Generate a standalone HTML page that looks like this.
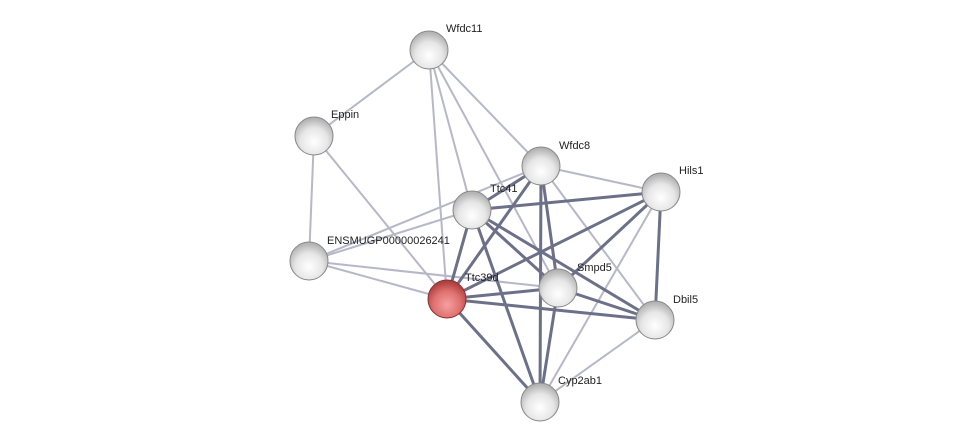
<!DOCTYPE html><html><head><style>body{margin:0;background:#fff}svg{display:block}text{font-family:"Liberation Sans",sans-serif;font-size:11px;fill:#222}</style></head><body>
<svg width="976" height="447" viewBox="0 0 976 447">
<defs>
<radialGradient id="g" cx="50%" cy="65%" r="60%"><stop offset="0" stop-color="#fff"/><stop offset="0.6" stop-color="#e6e6e6"/><stop offset="1" stop-color="#b4b4b4"/></radialGradient>
<radialGradient id="r" cx="50%" cy="65%" r="60%"><stop offset="0" stop-color="#f5a0a0"/><stop offset="0.6" stop-color="#df7070"/><stop offset="1" stop-color="#b04040"/></radialGradient>
<linearGradient id="h" x1="0" y1="0" x2="0" y2="1"><stop offset="0" stop-color="#fff" stop-opacity="0.9"/><stop offset="1" stop-color="#fff" stop-opacity="0"/></linearGradient>
</defs>
<g stroke="#b6b8c8" stroke-width="2">
<line x1="429" y1="50" x2="314" y2="136"/><line x1="429" y1="50" x2="541" y2="166"/><line x1="429" y1="50" x2="472" y2="210"/><line x1="429" y1="50" x2="447" y2="299"/><line x1="429" y1="50" x2="558" y2="288"/>
<line x1="314" y1="136" x2="309" y2="261"/><line x1="314" y1="136" x2="447" y2="299"/>
<line x1="309" y1="261" x2="472" y2="210"/><line x1="309" y1="261" x2="541" y2="166"/><line x1="309" y1="261" x2="447" y2="299"/><line x1="309" y1="261" x2="558" y2="288"/>
<line x1="541" y1="166" x2="661" y2="192"/><line x1="541" y1="166" x2="655" y2="320"/>
<line x1="661" y1="192" x2="540" y2="402"/><line x1="655" y1="320" x2="540" y2="402"/>
</g>
<g stroke="#6c7088" stroke-width="3">
<line x1="447" y1="299" x2="472" y2="210"/><line x1="447" y1="299" x2="541" y2="166"/><line x1="447" y1="299" x2="661" y2="192"/><line x1="447" y1="299" x2="558" y2="288"/><line x1="447" y1="299" x2="655" y2="320"/><line x1="447" y1="299" x2="540" y2="402"/>
<line x1="472" y1="210" x2="661" y2="192"/><line x1="472" y1="210" x2="558" y2="288"/><line x1="472" y1="210" x2="655" y2="320"/><line x1="472" y1="210" x2="540" y2="402"/><line x1="472" y1="210" x2="541" y2="166"/>
<line x1="541" y1="166" x2="558" y2="288"/><line x1="541" y1="166" x2="540" y2="402"/>
<line x1="661" y1="192" x2="558" y2="288"/><line x1="661" y1="192" x2="655" y2="320"/>
<line x1="558" y1="288" x2="655" y2="320"/><line x1="558" y1="288" x2="540" y2="402"/>
</g>
<g stroke="#888" stroke-width="1">
<circle cx="429" cy="50" r="19" fill="url(#g)"/><circle cx="314" cy="136" r="19" fill="url(#g)"/><circle cx="541" cy="166" r="19" fill="url(#g)"/><circle cx="661" cy="192" r="19" fill="url(#g)"/><circle cx="472" cy="210" r="19" fill="url(#g)"/><circle cx="309" cy="261" r="19" fill="url(#g)"/><circle cx="447" cy="299" r="19" fill="url(#r)" stroke="#8a3030"/><circle cx="558" cy="288" r="19" fill="url(#g)"/><circle cx="655" cy="320" r="19" fill="url(#g)"/><circle cx="540" cy="402" r="19" fill="url(#g)"/>
</g>
<text x="446" y="32">Wfdc11</text><text x="331" y="118">Eppin</text><text x="559" y="149">Wfdc8</text><text x="679" y="174">Hils1</text><text x="490" y="192">Ttc41</text><text x="327" y="244">ENSMUGP00000026241</text><text x="465" y="281">Ttc39d</text><text x="577" y="271">Smpd5</text><text x="673" y="303">Dbil5</text><text x="558" y="384">Cyp2ab1</text>
</svg></body></html>
